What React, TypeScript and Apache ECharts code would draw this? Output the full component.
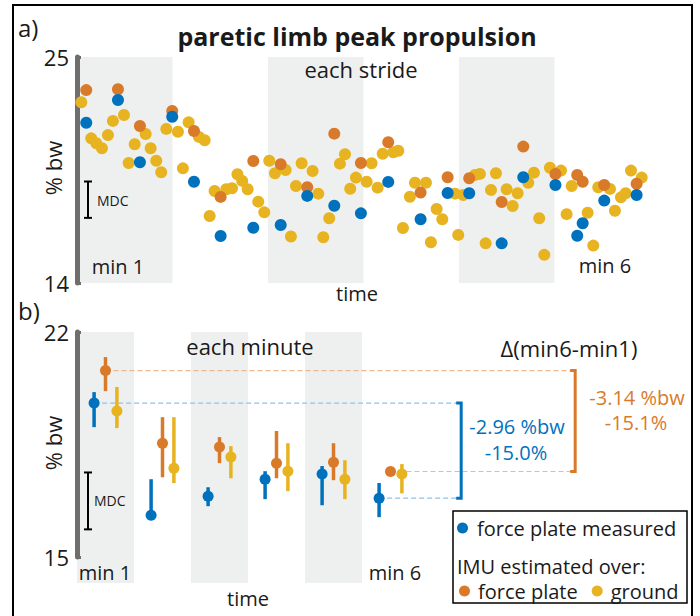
import React, { useEffect, useRef } from "react";
import * as echarts from "echarts";

// ---------- panel a) each stride (time in minutes) ----------
const fpStrideTime = [0.097, 0.429, 0.659, 0.997, 1.225, 1.504, 1.846, 2.133, 2.411, 2.694, 2.973, 3.259, 3.598, 3.881, 4.107, 4.447, 4.673, 5.01, 5.238, 5.295, 5.521, 5.86];
const fpMeasuredStride = [21.8, 22.91, 19.88, 22.09, 18.93, 16.29, 16.69, 16.82, 18.24, 17.76, 17.39, 18.92, 17.1, 18.38, 18.37, 15.93, 19.15, 18.77, 16.3, 16.91, 18.01, 18.28];
const imuForcePlateStride = [23.39, 23.43, 21.64, 22.37, 21.4, 18.19, 19.94, 19.78, 18.66, 21.27, 19.84, 20.85, 18.4, 19.15, 19.1, 17.94, 20.64, 19.31, 19.26, 18.93, 18.77, 18.83];
const groundStrideTime = [
  0.045, 0.149, 0.202, 0.261, 0.324, 0.376, 0.492, 0.541, 0.604, 0.719,
  0.771, 0.83, 0.882, 0.935, 1.057, 1.109, 1.169, 1.277, 1.337, 1.389,
  1.441, 1.563, 1.623, 1.68, 1.73, 1.787, 1.898, 1.961, 2.013, 2.073,
  2.185, 2.24, 2.293, 2.352, 2.467, 2.526, 2.579, 2.641, 2.753, 2.806,
  2.861, 2.921, 3.033, 3.085, 3.148, 3.201, 3.312, 3.364, 3.413, 3.486,
  3.539, 3.654, 3.706, 3.766, 3.825, 3.958, 3.992, 4.045, 4.167, 4.219,
  4.279, 4.335, 4.387, 4.499, 4.562, 4.614, 4.725, 4.785, 4.84, 4.893,
  4.952, 5.068, 5.127, 5.18, 5.347, 5.406, 5.458, 5.581, 5.633, 5.696,
  5.745, 5.801, 5.913,
];
const imuGroundStride = [
  22.8, 21.04, 20.8, 20.56, 21.2, 21.89, 22.18, 19.84, 20.75, 21.25,
  20.56, 19.95, 19.39, 21.5, 21.36, 19.58, 21.82, 21.11, 20.95, 17.26,
  18.48, 18.56, 18.61, 19.29, 18.97, 18.56, 17.96, 17.44, 19.95, 19.34,
  19.5, 16.26, 18.72, 19.83, 19.45, 18.35, 16.23, 17.15, 19.81, 20.27,
  18.59, 19.13, 18.93, 19.83, 18.64, 20.29, 20.36, 20.44, 16.68, 18.2,
  18.88, 18.88, 15.98, 17.6, 17.1, 18.35, 16.34, 18.28, 19.26, 19.31,
  15.93, 18.53, 19.34, 18.56, 17.75, 18.37, 18.88, 19.37, 17.15, 15.37,
  19.61, 19.47, 17.35, 18.72, 17.42, 15.82, 18.66, 18.58, 17.52, 18.17,
  18.37, 19.47, 19.13,
];
const strideTicks = [14, 25];

// ---------- panel b) each minute ----------
const minuteLabels = ["min 1", "min 2", "min 3", "min 4", "min 5", "min 6"];
const fpMeasuredMean = [19.79, 16.3, 16.89, 17.42, 17.58, 16.83];
const fpMeasuredLow = [19.04, 16.3, 16.58, 16.8, 16.61, 16.24];
const fpMeasuredHigh = [20.13, 17.42, 17.17, 17.67, 17.83, 17.3];
const imuFpMean = [20.8, 18.54, 18.42, 17.92, 17.95, 17.66];
const imuFpLow = [20.16, 17.48, 17.92, 17.45, 17.39, 17.66];
const imuFpHigh = [21.22, 19.35, 18.73, 18.92, 18.54, 17.66];
const imuGroundMean = [19.54, 17.76, 18.11, 17.67, 17.42, 17.58];
const imuGroundLow = [19.01, 17.3, 17.45, 17.05, 16.8, 16.98];
const imuGroundHigh = [20.29, 19.35, 18.45, 18.54, 18.01, 17.89];
const minuteTicks = [15, 22];

const MDC = 1.77;
const shadedMinutes = [0, 2, 4];

// ---------- styles ----------
const FONT = "'Open Sans', sans-serif";
const BLUE = "#0072BD";
const ORANGE = "#D97A2B";
const YELLOW = "#E8B321";
const BLUE_LIGHT = "#8fc4ea";
const ORANGE_LIGHT = "#f0b68c";
const SHADE = "#eef0ef";
const AXIS_GRAY = "#6e6e6e";
const TXT = "#1a1a1a";

const GRID_A = { left: 77, top: 57, width: 573, height: 226 };
const GRID_B = { left: 77, top: 332, width: 342, height: 225 };
const OFFS = { fp: -0.2, imuFp: 0, imuGr: 0.2 };
const BRACKET_X = { fp: 6.74, imuFp: 8.74 };

const shadeSeries = (axis: number, yTop: number, yBot: number, extra: number) => ({
  type: "custom",
  xAxisIndex: axis,
  yAxisIndex: axis,
  silent: true,
  z: -1,
  data: shadedMinutes.map((m) => [m]),
  renderItem: (_p: any, api: any) => {
    const m = api.value(0);
    const a = api.coord([m, yTop]);
    const b = api.coord([m + 1, yBot]);
    return { type: "rect", shape: { x: a[0], y: a[1], width: b[0] - a[0], height: b[1] - a[1] + extra }, style: { fill: SHADE } };
  },
});

const mdcSeries = (axis: number, x: number, y0: number) => ({
  type: "custom",
  xAxisIndex: axis,
  yAxisIndex: axis,
  silent: true,
  z: 3,
  data: [[x, y0, y0 + MDC]],
  renderItem: (_p: any, api: any) => {
    const lo = api.coord([api.value(0), api.value(1)]);
    const hi = api.coord([api.value(0), api.value(2)]);
    const st = { stroke: "#000", lineWidth: 2 };
    return {
      type: "group",
      children: [
        { type: "line", shape: { x1: lo[0], y1: lo[1], x2: hi[0], y2: hi[1] }, style: st },
        { type: "line", shape: { x1: lo[0] - 4, y1: lo[1], x2: lo[0] + 4, y2: lo[1] }, style: st },
        { type: "line", shape: { x1: hi[0] - 4, y1: hi[1], x2: hi[0] + 4, y2: hi[1] }, style: st },
      ],
    };
  },
});

const errSeries = (name: string, lows: number[], highs: number[], off: number, color: string) => ({
  type: "custom",
  name,
  xAxisIndex: 1,
  yAxisIndex: 1,
  silent: true,
  z: 3,
  data: lows.map((l, i) => [i + 0.5 + off, l, highs[i]]),
  renderItem: (_p: any, api: any) => {
    const lo = api.coord([api.value(0), api.value(1)]);
    const hi = api.coord([api.value(0), api.value(2)]);
    return { type: "line", shape: { x1: lo[0], y1: lo[1], x2: hi[0], y2: hi[1] }, style: { stroke: color, lineWidth: 3.5 } };
  },
});

const dashSeries = (name: string, means: number[], off: number, bx: number, color: string) => ({
  type: "custom",
  name,
  xAxisIndex: 1,
  yAxisIndex: 1,
  silent: true,
  z: 2,
  data: [
    [0.5 + off, means[0], bx],
    [5.5 + off, means[5], bx],
  ],
  renderItem: (_p: any, api: any) => {
    const a = api.coord([api.value(0), api.value(1)]);
    const b = api.coord([api.value(2), api.value(1)]);
    return { type: "line", shape: { x1: a[0], y1: a[1], x2: b[0], y2: b[1] }, style: { stroke: color, lineWidth: 1.2, lineDash: [5, 3] } };
  },
});

const bracketSeries = (name: string, means: number[], bx: number, color: string) => ({
  type: "custom",
  name,
  xAxisIndex: 1,
  yAxisIndex: 1,
  silent: true,
  z: 3,
  data: [[bx, means[0], means[5]]],
  renderItem: (_p: any, api: any) => {
    const t = api.coord([api.value(0), api.value(1)]);
    const b = api.coord([api.value(0), api.value(2)]);
    return {
      type: "polyline",
      shape: { points: [[t[0] - 5, t[1]], [t[0], t[1]], [b[0], b[1]], [b[0] - 5, b[1]]] },
      style: { stroke: color, lineWidth: 3, fill: null },
    };
  },
});

const strideScatter = (name: string, xs: number[], ys: number[], color: string, z: number) => ({
  type: "scatter",
  name,
  xAxisIndex: 0,
  yAxisIndex: 0,
  symbolSize: 12,
  z,
  itemStyle: { color, opacity: 1 },
  data: xs.map((x, i) => [x, ys[i]]),
});

const minuteScatter = (name: string, means: number[], off: number, color: string) => ({
  type: "scatter",
  name,
  xAxisIndex: 1,
  yAxisIndex: 1,
  symbolSize: 11,
  z: 4,
  itemStyle: { color, opacity: 1 },
  data: means.map((m, i) => [i + 0.5 + off, m]),
});

const txt = (text: string, x: number, y: number, size: number, opts: any = {}) => ({
  type: "text",
  x,
  y,
  z: 50,
  rotation: opts.rotation || 0,
  silent: true,
  style: {
    text,
    fill: opts.fill || TXT,
    fontSize: size,
    fontFamily: FONT,
    fontWeight: opts.bold ? "bold" : "normal",
    textAlign: opts.align || "center",
    align: opts.align || "center",
    textVerticalAlign: "middle",
    verticalAlign: "middle",
  },
});

const delta = (m: number[]) => m[5] - m[0];
const fpDelta = delta(fpMeasuredMean);
const imuDelta = delta(imuFpMean);

const yAxisBase = (grid: number, ticks: number[]) => ({
  type: "value",
  gridIndex: grid,
  min: ticks[0],
  max: ticks[1],
  interval: ticks[1] - ticks[0],
  axisLine: { show: true, lineStyle: { color: AXIS_GRAY, width: 5 } },
  axisTick: { show: true, inside: true, length: 4, lineStyle: { color: AXIS_GRAY, width: 3 } },
  splitLine: { show: false },
  axisLabel: { fontSize: 22, fontFamily: FONT, color: TXT, margin: 8 },
});

const legendBase = {
  padding: 0,
  icon: "circle",
  itemWidth: 11,
  itemHeight: 11,
  selectedMode: false,
  z: 10,
};

const option: any = {
  animation: false,
  backgroundColor: "#fff",
  grid: [
    { ...GRID_A, containLabel: false },
    { ...GRID_B, containLabel: false },
  ],
  xAxis: [
    { type: "value", gridIndex: 0, min: 0, max: 6, show: false },
    { type: "value", gridIndex: 1, min: 0, max: minuteLabels.length, show: false },
  ],
  yAxis: [yAxisBase(0, strideTicks), yAxisBase(1, minuteTicks)],
  legend: [
    {
      ...legendBase,
      data: ["force plate measured"],
      left: 457,
      top: 518,
      textStyle: { fontSize: 20, fontFamily: FONT, color: TXT, padding: [0, 0, 0, 4] },
    },
    {
      ...legendBase,
      data: ["force plate", "ground"],
      left: 459,
      top: 581,
      itemGap: 14,
      textStyle: { fontSize: 20, fontFamily: FONT, color: TXT, padding: [0, 0, 0, 3] },
    },
  ],
  series: [
    shadeSeries(0, strideTicks[1], strideTicks[0], 0),
    mdcSeries(0, 0.115, 17.17),
    strideScatter("ground", groundStrideTime, imuGroundStride, YELLOW, 2),
    strideScatter("force plate", fpStrideTime, imuForcePlateStride, ORANGE, 3),
    strideScatter("force plate measured", fpStrideTime, fpMeasuredStride, BLUE, 4),

    shadeSeries(1, minuteTicks[1], minuteTicks[0], 26),
    mdcSeries(1, 0.193, 15.86),
    dashSeries("ref-fp", fpMeasuredMean, OFFS.fp, BRACKET_X.fp, BLUE_LIGHT),
    dashSeries("ref-imu", imuFpMean, OFFS.imuFp, BRACKET_X.imuFp, ORANGE_LIGHT),
    bracketSeries("delta-fp", fpMeasuredMean, BRACKET_X.fp, BLUE),
    bracketSeries("delta-imu", imuFpMean, BRACKET_X.imuFp, ORANGE),
    errSeries("err-fp", fpMeasuredLow, fpMeasuredHigh, OFFS.fp, BLUE),
    errSeries("err-imufp", imuFpLow, imuFpHigh, OFFS.imuFp, ORANGE),
    errSeries("err-imugr", imuGroundLow, imuGroundHigh, OFFS.imuGr, YELLOW),
    minuteScatter("force plate measured", fpMeasuredMean, OFFS.fp, BLUE),
    minuteScatter("force plate", imuFpMean, OFFS.imuFp, ORANGE),
    minuteScatter("ground", imuGroundMean, OFFS.imuGr, YELLOW),
  ],
  graphic: {
    elements: [
      { type: "rect", z: 60, silent: true, shape: { x: 13, y: 5, width: 679, height: 700 }, style: { fill: "none", stroke: "#000", lineWidth: 2 } },
      txt("a)", 18, 27, 24, { align: "left" }),
      txt("b)", 18, 310, 24, { align: "left" }),
      txt("paretic limb peak propulsion", 357, 36, 25, { bold: true }),
      txt("each stride", 361, 69, 22),
      txt("% bw", 53, 168, 22, { rotation: Math.PI / 2 }),
      txt("time", 357, 293, 20),
      txt(minuteLabels[0], 118, 266, 20),
      txt(minuteLabels[5], 605, 265, 20),
      txt("MDC", 97, 200, 14, { align: "left" }),
      txt("each minute", 250, 346, 22),
      txt("% bw", 53, 443, 22, { rotation: Math.PI / 2 }),
      txt("\u0394(min6-min1)", 569, 348, 22),
      txt(minuteLabels[0], 105, 572, 20),
      txt(minuteLabels[5], 395, 572, 20),
      txt("time", 248, 598, 20),
      txt("MDC", 94, 500, 14, { align: "left" }),
      txt(`${fpDelta.toFixed(2)} %bw`, 517, 426, 20, { fill: BLUE }),
      txt(`${((fpDelta / fpMeasuredMean[0]) * 100).toFixed(1)}%`, 516, 452, 20, { fill: BLUE }),
      txt(`${imuDelta.toFixed(2)} %bw`, 637, 397, 20, { fill: ORANGE }),
      txt(`${((imuDelta / imuFpMean[0]) * 100).toFixed(1)}%`, 636, 422, 20, { fill: ORANGE }),
      { type: "rect", z: 1, silent: true, shape: { x: 453, y: 511, width: 234, height: 92 }, style: { fill: "#fff", stroke: "#000", lineWidth: 1.5 } },
      txt("IMU estimated over:", 457, 566, 20, { align: "left" }),
    ],
  },
};

export default function App() {
  const ref = useRef<HTMLDivElement>(null);
  useEffect(() => {
    const chart = echarts.init(ref.current!, null, { renderer: "svg" });
    chart.setOption(option);
    return () => chart.dispose();
  }, []);
  return <div ref={ref} style={{ position: "absolute", left: 0, top: 0, width: 700, height: 616 }} />;
}
